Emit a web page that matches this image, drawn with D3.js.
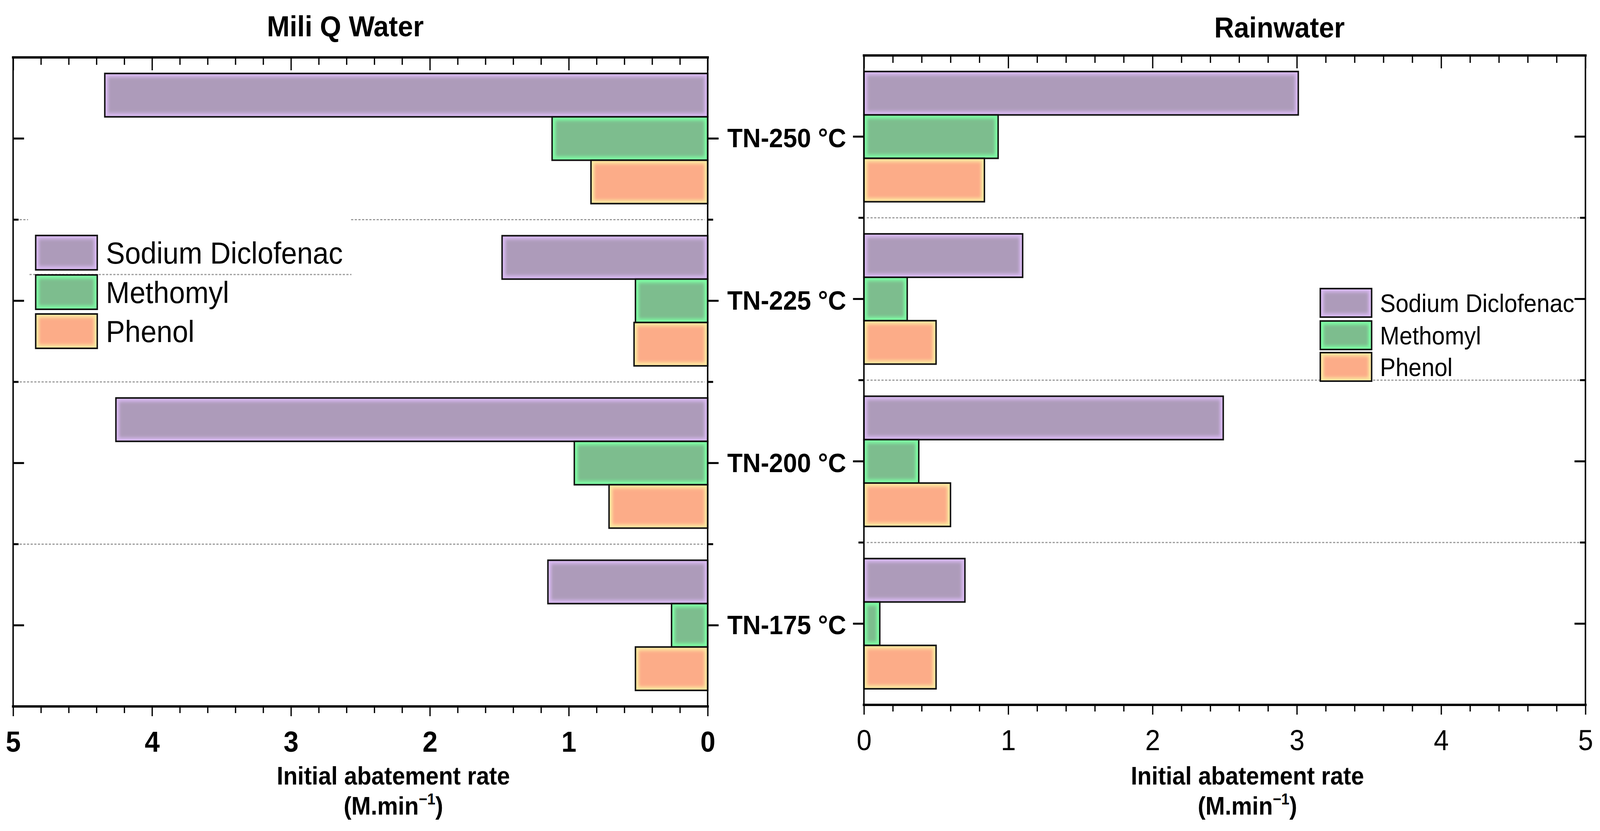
<!DOCTYPE html>
<html>
<head>
<meta charset="utf-8">
<script src="https://cdn.jsdelivr.net/npm/d3@7"></script>
<style>
  html, body { margin: 0; padding: 0; background: #fff; overflow: hidden; }
  svg { display: block; width: 100vw; height: 100vh; }
  text { font-family: "Liberation Sans", Arial, sans-serif; fill: #000; }
</style>
</head>
<body>
<svg id="chart" viewBox="0 0 4393 2128" preserveAspectRatio="none"></svg>
<script>
// data
var categories = ["TN-250 °C", "TN-225 °C", "TN-200 °C", "TN-175 °C"];
var series = ["Sodium Diclofenac", "Methomyl", "Phenol"];
var miliQ_diclofenac = [4.34, 1.48, 4.26, 1.15];
var miliQ_methomyl   = [1.12, 0.52, 0.96, 0.26];
var miliQ_phenol     = [0.84, 0.53, 0.71, 0.52];
var rain_diclofenac  = [3.01, 1.10, 2.49, 0.70];
var rain_methomyl    = [0.93, 0.30, 0.38, 0.11];
var rain_phenol      = [0.835, 0.50, 0.60, 0.50];
var xTicks = [0, 1, 2, 3, 4, 5];

var fills = {"Sodium Diclofenac": "#ad9bba", "Methomyl": "#7dbd8e", "Phenol": "#fcac88"};
var glows = {"Sodium Diclofenac": "#d9b9f2", "Methomyl": "#7dffa4", "Phenol": "#fde9a0"};

var svg = d3.select("#chart");
var defs = svg.append("defs");
defs.append("filter").attr("id", "soft")
    .attr("x", "-20%").attr("y", "-20%").attr("width", "140%").attr("height", "140%")
    .append("feGaussianBlur").attr("stdDeviation", 4);

var panels = [
    {title: "Mili Q Water", titleX: 948, titleY: 93, left: 36, right: 1943, top: 147, bottom: 1809,
     domain: [5, 0], axisSide: "right", labelX: 1080, tickWeight: 700,
     values: [miliQ_diclofenac, miliQ_methomyl, miliQ_phenol]},
    {title: "Rainwater", titleX: 3513, titleY: 96, left: 2372, right: 4353, top: 142, bottom: 1805,
     domain: [0, 5], axisSide: "left", labelX: 3425, tickWeight: 400,
     values: [rain_diclofenac, rain_methomyl, rain_phenol]}
];

function drawBar(g, x, y, w, h, name){
    g.append("rect").attr("x", x).attr("y", y).attr("width", w).attr("height", h)
        .attr("fill", glows[name]);
    var ins = Math.min(9, w/2 - 1);
    g.append("rect").attr("x", x + ins).attr("y", y + 9)
        .attr("width", Math.max(0, w - 2*ins)).attr("height", Math.max(0, h - 18))
        .attr("fill", fills[name]).attr("filter", "url(#soft)");
    g.append("rect").attr("x", x).attr("y", y).attr("width", w).attr("height", h)
        .attr("fill", "none").attr("stroke", "#111").attr("stroke-width", 4);
}

var centers = [];

panels.forEach(function(P, pi){
    var g = svg.append("g");
    var x = d3.scaleLinear().domain(P.domain).range([P.left, P.right]);
    var y = d3.scaleBand().domain(categories).range([P.top, P.bottom]);
    var ySub = d3.scaleBand().domain(series).range([0, y.bandwidth()]).paddingOuter(0.37);
    var zeroX = x(0);

    // dotted separators between categories
    categories.slice(1).forEach(function(c){
        var sy = y(c);
        g.append("line").attr("x1", P.left + 8).attr("x2", P.right - 8)
            .attr("y1", sy).attr("y2", sy)
            .attr("stroke", "#9a9a9a").attr("stroke-width", 3)
            .attr("stroke-dasharray", "6,4");
    });

    // bars
    series.forEach(function(s, si){
        P.values[si].forEach(function(v, ci){
            var x0 = Math.min(x(v), zeroX), w = Math.abs(x(v) - zeroX);
            drawBar(g, x0, y(categories[ci]) + ySub(s), w, ySub.bandwidth(), s);
        });
    });

    // frame
    g.append("line").attr("x1", P.left).attr("x2", P.left).attr("y1", P.top).attr("y2", P.bottom)
        .attr("stroke", "#000").attr("stroke-width", 4);
    g.append("line").attr("x1", P.right).attr("x2", P.right).attr("y1", P.top).attr("y2", P.bottom)
        .attr("stroke", "#000").attr("stroke-width", 4);

    // top axis: ticks inside
    var minorVals = d3.range(0, 5.001, 0.2).filter(function(d){ return Math.abs(d - Math.round(d)) > 1e-6; });
    var topMajor = g.append("g").attr("transform", "translate(0," + P.top + ")")
        .call(d3.axisBottom(x).tickValues(xTicks).tickSize(33).tickFormat(""));
    var topMinor = g.append("g").attr("transform", "translate(0," + P.top + ")")
        .call(d3.axisBottom(x).tickValues(minorVals).tickSize(19).tickFormat(""));
    // bottom axis: ticks outside, labelled
    var botMajor = g.append("g").attr("transform", "translate(0," + P.bottom + ")")
        .call(d3.axisBottom(x).tickValues(xTicks).tickSize(25).tickPadding(38).tickFormat(d3.format("d")));
    var botMinor = g.append("g").attr("transform", "translate(0," + P.bottom + ")")
        .call(d3.axisBottom(x).tickValues(minorVals).tickSize(17).tickFormat(""));
    [topMajor, topMinor, botMajor, botMinor].forEach(function(a){
        a.select(".domain").attr("stroke", "#000").attr("stroke-width", 6)
            .attr("d", "M" + (P.left - 3) + ",0H" + (P.right + 3));
        a.selectAll(".tick line").attr("stroke", "#000").attr("stroke-width", 3.5);
    });
    botMajor.selectAll(".tick text")
        .attr("font-size", 74).attr("font-weight", P.tickWeight)
        .attr("font-family", "'Liberation Sans', Arial, sans-serif").attr("fill", "#000");

    // category ticks (major at centres, minor at boundaries)
    var axisX = P.axisSide === "right" ? P.right : P.left;
    var otherX = P.axisSide === "right" ? P.left : P.right;
    var outDir = P.axisSide === "right" ? 1 : -1;
    categories.forEach(function(c, ci){
        var cy = y(c) + y.bandwidth()/2;
        g.append("line").attr("x1", axisX).attr("x2", axisX + outDir*30).attr("y1", cy).attr("y2", cy)
            .attr("stroke", "#000").attr("stroke-width", 5);
        g.append("line").attr("x1", otherX).attr("x2", otherX + outDir*30).attr("y1", cy).attr("y2", cy)
            .attr("stroke", "#000").attr("stroke-width", 5);
        if(ci > 0){
            g.append("line").attr("x1", axisX).attr("x2", axisX + outDir*15).attr("y1", y(c)).attr("y2", y(c))
                .attr("stroke", "#000").attr("stroke-width", 5);
            g.append("line").attr("x1", otherX).attr("x2", otherX + outDir*15).attr("y1", y(c)).attr("y2", y(c))
                .attr("stroke", "#000").attr("stroke-width", 5);
        }
        centers[ci] = (centers[ci] || 0) + cy/2;
    });

    // titles
    g.append("text").attr("x", P.titleX).attr("y", P.titleY).attr("text-anchor", "middle")
        .attr("font-size", 75).attr("font-weight", 700).text(P.title);
    g.append("text").attr("x", P.labelX).attr("y", 2009).attr("text-anchor", "middle")
        .attr("font-size", 64).attr("font-weight", 700).text("Initial abatement rate");
    var t2 = g.append("text").attr("x", P.labelX).attr("y", 2086).attr("text-anchor", "middle")
        .attr("font-size", 64).attr("font-weight", 700);
    t2.append("tspan").text("(M.min");
    t2.append("tspan").attr("font-size", 40).attr("dy", -26).text("\u22121");
    t2.append("tspan").attr("dy", 26).text(")");
});

// category labels between the panels
categories.forEach(function(c, ci){
    svg.append("text").attr("x", 2160).attr("y", centers[ci] + 25).attr("text-anchor", "middle")
        .attr("font-size", 69).attr("font-weight", 700).text(c);
});

// left legend (sits on a white patch over the plot)
var legL = svg.append("g");
legL.append("rect").attr("x", 77).attr("y", 545).attr("width", 885).attr("height", 360).attr("fill", "#fff");
legL.append("line").attr("x1", 81).attr("x2", 965).attr("y1", 703).attr("y2", 703)
    .attr("stroke", "#9a9a9a").attr("stroke-width", 3).attr("stroke-dasharray", "6,4");
var legLy = [603, 704, 804];
series.forEach(function(s, i){
    drawBar(legL, 98, legLy[i], 169, 88, s);
    legL.append("text").attr("x", 291).attr("y", legLy[i] + 44 + 28).attr("font-size", 78).text(s);
});

// right legend
var legR = svg.append("g");
var legRy = [739, 822, 903];
series.forEach(function(s, i){
    drawBar(legR, 3625, legRy[i], 141, 73, s);
    legR.append("text").attr("x", 3789).attr("y", legRy[i] + 37 + 23).attr("font-size", 64).text(s);
});
</script>
</body>
</html>
